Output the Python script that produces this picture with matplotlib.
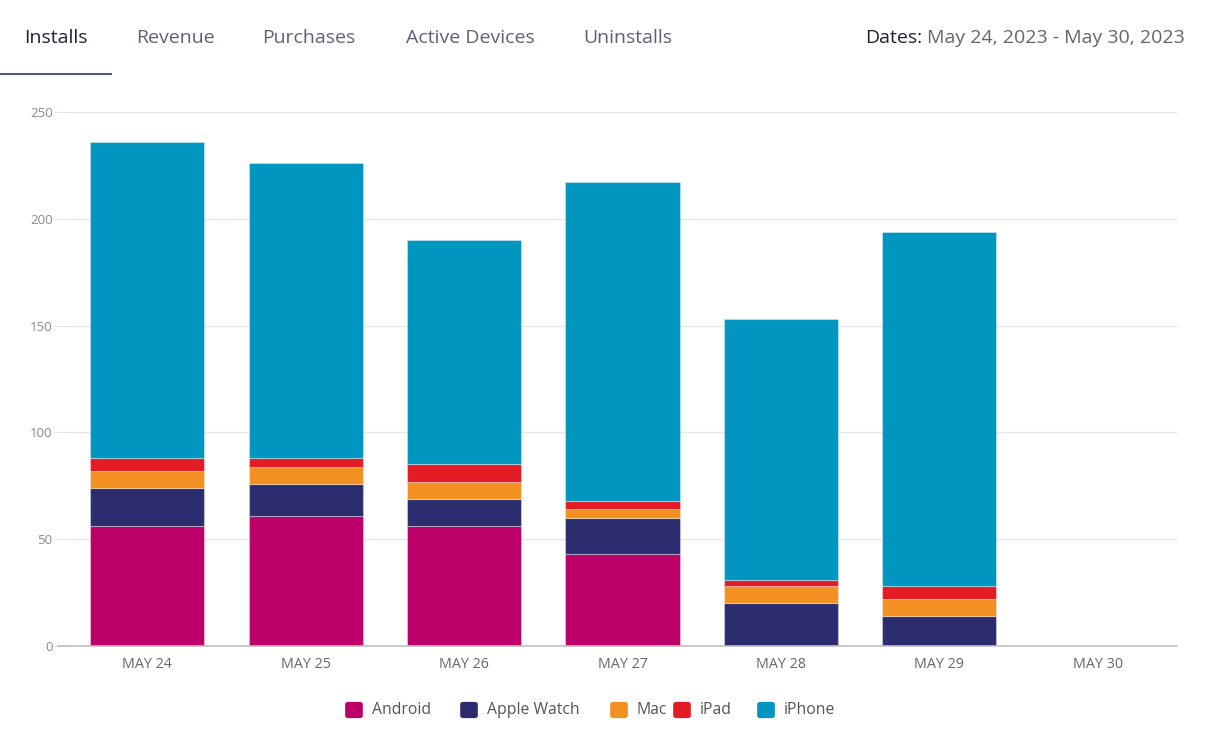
import matplotlib
matplotlib.use("Agg")
import matplotlib.pyplot as plt
from matplotlib.patches import FancyBboxPatch, Rectangle
from matplotlib.lines import Line2D
import numpy as np

plt.rcParams['font.family'] = ['Open Sans', 'DejaVu Sans']

dates = ["MAY 24", "MAY 25", "MAY 26", "MAY 27", "MAY 28", "MAY 29", "MAY 30"]
android = [56, 61, 56, 43, 0, 0, 0]
apple_watch = [18, 15, 13, 17, 20, 14, 0]
mac = [8, 8, 8, 4, 8, 8, 0]
ipad = [6, 4, 8, 4, 3, 6, 0]
iphone = [148, 138, 105, 149, 122, 166, 0]

series_names = ["Android", "Apple Watch", "Mac", "iPad", "iPhone"]
series_values = [android, apple_watch, mac, ipad, iphone]
colors = ["#BD0069", "#2C2D6F", "#F29122", "#E31B25", "#0096BF"]

tabs = ["Installs", "Revenue", "Purchases", "Active Devices", "Uninstalls"]
yticks = [0, 50, 100, 150, 200, 250]

W, H = 1209, 750
fig = plt.figure(figsize=(W / 100, H / 100), dpi=100)

left, right, bottom, top = 68, 1177, 646, 112
ax = fig.add_axes([left / W, 1 - bottom / H, (right - left) / W, (bottom - top) / H])

x = np.arange(len(dates))
base = np.zeros(len(dates))
for name, vals, c in zip(series_names, series_values, colors):
    v = np.array(vals, dtype=float)
    ax.bar(x, v, width=0.72, bottom=base, color=c, edgecolor=(1, 1, 1, 0.35),
           linewidth=0.8, zorder=3)
    base += v

ax.set_xlim(-0.5, len(dates) - 0.5)
ax.set_ylim(0, 250)
ax.set_yticks(yticks)
ax.set_yticklabels([str(t) for t in yticks])
ax.set_xticks(x)
ax.set_xticklabels(dates)
ax.tick_params(axis='y', length=10, color="#e3e3e3", labelcolor="#8a8a8a", labelsize=9.5, pad=1)
ax.tick_params(axis='x', length=0, labelcolor="#666666", labelsize=10.3, pad=8)
ax.grid(axis='y', color="#e6e6e6", linewidth=1, zorder=0)
for s in ["top", "right", "left"]:
    ax.spines[s].set_visible(False)
ax.spines["bottom"].set_color("#c0c0c0")
ax.spines["bottom"].set_linewidth(1.2)
ax.spines["bottom"].set_zorder(4)
fig.add_artist(Line2D([58 / W, left / W], [1 - bottom / H, 1 - bottom / H],
                      transform=fig.transFigure, color="#c0c0c0", linewidth=1.2))

# header tabs
tab_centers = [56, 175, 309, 470, 628]
for i, (t, cx) in enumerate(zip(tabs, tab_centers)):
    fig.text(cx / W, 1 - 38 / H, t, ha='center', va='center', fontsize=14,
             color="#1b2033" if i == 0 else "#5c6275", fontweight='medium' if i == 0 else 'normal')
fig.add_artist(Rectangle((0, 1 - 75 / H), 112 / W, 2 / H, transform=fig.transFigure,
                         color="#4b587c", linewidth=0))

# dates
t2 = fig.text(1185 / W, 1 - 38 / H, "May 24, 2023 - May 30, 2023", ha='right', va='center',
              fontsize=14, color="#666666")
fig.canvas.draw()
bb = t2.get_window_extent()
fig.text((bb.x0 - 5) / W, 1 - 38 / H, "Dates:", ha='right', va='center', fontsize=14,
         color="#1b2033", fontweight='medium')

# legend
legend_sq = [345, 460, 610, 673, 757]
for name, c, sx in zip(series_names, colors, legend_sq):
    fig.add_artist(FancyBboxPatch(((sx + 2) / W, 1 - (718 - 1) / H), 14 / W, 14 / H,
                                  boxstyle="round,pad=0.0015,rounding_size=0.003",
                                  transform=fig.transFigure, color=c, linewidth=0))
    fig.text((sx + 27) / W, 1 - 710 / H, name, ha='left', va='center', fontsize=11.3,
             color="#555555")

fig.savefig("out.png", dpi=100)
